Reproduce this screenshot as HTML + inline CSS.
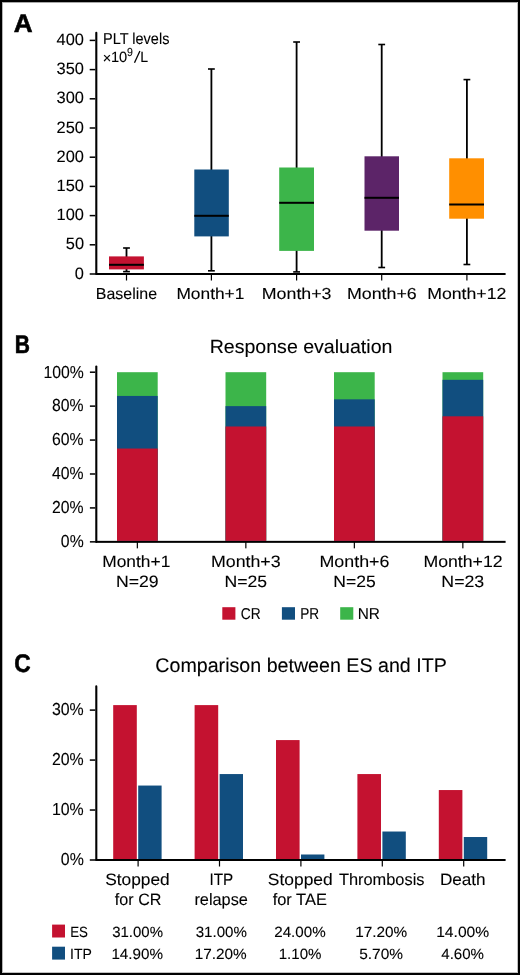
<!DOCTYPE html>
<html><head><meta charset="utf-8"><style>
html,body{margin:0;padding:0;background:#fff;}
svg{display:block;will-change:transform;font-family:"Liberation Sans",sans-serif;text-rendering:geometricPrecision;}
text{fill:#000;stroke:#000;stroke-width:0.1px;}
</style></head><body>
<svg width="520" height="975" viewBox="0 0 520 975">
<rect width="520" height="975" fill="#fff"/>
<rect x="2.00" y="2.00" width="1.00" height="971.00" fill="#b4b4b4"/>
<rect x="2.00" y="2.00" width="516.00" height="1.00" fill="#a8a8a8"/>
<rect x="517.00" y="2.00" width="1.00" height="971.00" fill="#c0c0c0"/>
<rect x="2.00" y="972.00" width="516.00" height="1.00" fill="#c0c0c0"/>
<rect x="0.00" y="0.00" width="520.00" height="2.00" fill="#000"/>
<rect x="0.00" y="973.00" width="520.00" height="2.00" fill="#000"/>
<rect x="0.00" y="0.00" width="2.00" height="975.00" fill="#000"/>
<rect x="518.00" y="0.00" width="2.00" height="975.00" fill="#000"/>
<line x1="96.30" y1="32.7" x2="96.30" y2="274.00" stroke="#000" stroke-width="2.1" stroke-linecap="round"/>
<rect x="95.25" y="273.00" width="410.35" height="2.00" fill="#000"/>
<rect x="89.70" y="273.25" width="5.55" height="1.50" fill="#000"/>
<rect x="89.70" y="244.05" width="5.55" height="1.50" fill="#000"/>
<rect x="89.70" y="214.85" width="5.55" height="1.50" fill="#000"/>
<rect x="89.70" y="185.65" width="5.55" height="1.50" fill="#000"/>
<rect x="89.70" y="156.45" width="5.55" height="1.50" fill="#000"/>
<rect x="89.70" y="127.25" width="5.55" height="1.50" fill="#000"/>
<rect x="89.70" y="98.05" width="5.55" height="1.50" fill="#000"/>
<rect x="89.70" y="68.85" width="5.55" height="1.50" fill="#000"/>
<rect x="89.70" y="39.65" width="5.55" height="1.50" fill="#000"/>
<rect x="125.60" y="248.00" width="1.80" height="23.60" fill="#000"/>
<rect x="123.10" y="247.20" width="6.80" height="1.60" fill="#000"/>
<rect x="123.10" y="270.80" width="6.80" height="1.60" fill="#000"/>
<rect x="109.00" y="256.40" width="34.90" height="13.00" fill="#c41230"/>
<rect x="109.00" y="263.80" width="34.90" height="2.00" fill="#000"/>
<rect x="125.90" y="274.00" width="1.20" height="6.50" fill="#000"/>
<rect x="210.50" y="69.00" width="1.80" height="201.80" fill="#000"/>
<rect x="208.00" y="68.20" width="6.80" height="1.60" fill="#000"/>
<rect x="208.00" y="270.00" width="6.80" height="1.60" fill="#000"/>
<rect x="194.30" y="169.50" width="34.50" height="66.90" fill="#114e7f"/>
<rect x="194.30" y="214.80" width="34.50" height="2.00" fill="#000"/>
<rect x="210.80" y="274.00" width="1.20" height="6.50" fill="#000"/>
<rect x="295.70" y="42.00" width="1.80" height="229.90" fill="#000"/>
<rect x="293.20" y="41.20" width="6.80" height="1.60" fill="#000"/>
<rect x="293.20" y="271.10" width="6.80" height="1.60" fill="#000"/>
<rect x="279.20" y="167.50" width="34.80" height="83.40" fill="#3cb54a"/>
<rect x="279.20" y="201.80" width="34.80" height="2.00" fill="#000"/>
<rect x="296.00" y="274.00" width="1.20" height="6.50" fill="#000"/>
<rect x="380.80" y="44.50" width="1.80" height="223.00" fill="#000"/>
<rect x="378.30" y="43.70" width="6.80" height="1.60" fill="#000"/>
<rect x="378.30" y="266.70" width="6.80" height="1.60" fill="#000"/>
<rect x="364.50" y="156.30" width="34.50" height="74.40" fill="#5c2468"/>
<rect x="364.50" y="196.80" width="34.50" height="2.00" fill="#000"/>
<rect x="381.10" y="274.00" width="1.20" height="6.50" fill="#000"/>
<rect x="466.00" y="79.60" width="1.80" height="184.90" fill="#000"/>
<rect x="463.50" y="78.80" width="6.80" height="1.60" fill="#000"/>
<rect x="463.50" y="263.70" width="6.80" height="1.60" fill="#000"/>
<rect x="449.20" y="158.30" width="34.80" height="60.40" fill="#ff8f00"/>
<rect x="449.20" y="203.50" width="34.80" height="2.00" fill="#000"/>
<rect x="466.30" y="274.00" width="1.20" height="6.50" fill="#000"/>
<line x1="96.30" y1="366.6" x2="96.30" y2="541.85" stroke="#000" stroke-width="2.1" stroke-linecap="round"/>
<rect x="95.25" y="540.85" width="410.35" height="2.00" fill="#000"/>
<rect x="89.90" y="541.10" width="5.35" height="1.50" fill="#000"/>
<rect x="89.90" y="507.17" width="5.35" height="1.50" fill="#000"/>
<rect x="89.90" y="473.24" width="5.35" height="1.50" fill="#000"/>
<rect x="89.90" y="439.31" width="5.35" height="1.50" fill="#000"/>
<rect x="89.90" y="405.38" width="5.35" height="1.50" fill="#000"/>
<rect x="89.90" y="371.45" width="5.35" height="1.50" fill="#000"/>
<rect x="117.00" y="372.20" width="40.70" height="168.65" fill="#3cb54a"/>
<rect x="117.00" y="395.95" width="40.70" height="144.90" fill="#114e7f"/>
<rect x="117.00" y="448.54" width="40.70" height="92.31" fill="#c41230"/>
<rect x="136.75" y="541.85" width="1.20" height="6.50" fill="#000"/>
<rect x="225.50" y="372.20" width="40.70" height="168.65" fill="#3cb54a"/>
<rect x="225.50" y="406.13" width="40.70" height="134.72" fill="#114e7f"/>
<rect x="225.50" y="426.49" width="40.70" height="114.36" fill="#c41230"/>
<rect x="245.25" y="541.85" width="1.20" height="6.50" fill="#000"/>
<rect x="334.00" y="372.20" width="40.70" height="168.65" fill="#3cb54a"/>
<rect x="334.00" y="399.34" width="40.70" height="141.51" fill="#114e7f"/>
<rect x="334.00" y="426.49" width="40.70" height="114.36" fill="#c41230"/>
<rect x="353.75" y="541.85" width="1.20" height="6.50" fill="#000"/>
<rect x="442.50" y="372.20" width="40.70" height="168.65" fill="#3cb54a"/>
<rect x="442.50" y="379.83" width="40.70" height="161.02" fill="#114e7f"/>
<rect x="442.50" y="416.31" width="40.70" height="124.54" fill="#c41230"/>
<rect x="462.25" y="541.85" width="1.20" height="6.50" fill="#000"/>
<rect x="222.30" y="607.20" width="13.10" height="12.50" fill="#c41230"/>
<rect x="281.90" y="607.20" width="13.10" height="12.50" fill="#114e7f"/>
<rect x="340.20" y="607.20" width="13.10" height="12.50" fill="#3cb54a"/>
<line x1="96.30" y1="686.4" x2="96.30" y2="860.00" stroke="#000" stroke-width="2.1" stroke-linecap="round"/>
<rect x="95.25" y="859.00" width="410.35" height="2.00" fill="#000"/>
<rect x="89.80" y="859.25" width="5.45" height="1.50" fill="#000"/>
<rect x="89.80" y="809.28" width="5.45" height="1.50" fill="#000"/>
<rect x="89.80" y="759.32" width="5.45" height="1.50" fill="#000"/>
<rect x="89.80" y="709.35" width="5.45" height="1.50" fill="#000"/>
<rect x="113.20" y="705.10" width="23.60" height="153.90" fill="#c41230"/>
<rect x="138.20" y="785.55" width="23.40" height="73.45" fill="#114e7f"/>
<rect x="137.50" y="860.00" width="1.20" height="6.50" fill="#000"/>
<rect x="194.60" y="705.10" width="23.60" height="153.90" fill="#c41230"/>
<rect x="219.60" y="774.06" width="23.40" height="84.94" fill="#114e7f"/>
<rect x="218.90" y="860.00" width="1.20" height="6.50" fill="#000"/>
<rect x="276.00" y="740.08" width="23.60" height="118.92" fill="#c41230"/>
<rect x="301.00" y="854.50" width="23.40" height="4.50" fill="#114e7f"/>
<rect x="300.30" y="860.00" width="1.20" height="6.50" fill="#000"/>
<rect x="357.40" y="774.06" width="23.60" height="84.94" fill="#c41230"/>
<rect x="382.40" y="831.52" width="23.40" height="27.48" fill="#114e7f"/>
<rect x="381.70" y="860.00" width="1.20" height="6.50" fill="#000"/>
<rect x="438.80" y="790.05" width="23.60" height="68.95" fill="#c41230"/>
<rect x="463.80" y="837.02" width="23.40" height="21.98" fill="#114e7f"/>
<rect x="463.10" y="860.00" width="1.20" height="6.50" fill="#000"/>
<rect x="52.10" y="924.60" width="12.90" height="12.90" fill="#c41230"/>
<rect x="52.10" y="946.70" width="12.90" height="12.90" fill="#114e7f"/>
<text x="13.73" y="31.90" font-size="25.5" font-weight="bold" style="stroke-width:0.6px" textLength="18.86" lengthAdjust="spacingAndGlyphs">A</text>
<text x="14.85" y="352.50" font-size="25.5" font-weight="bold" style="stroke-width:0.6px" textLength="15.21" lengthAdjust="spacingAndGlyphs">B</text>
<text x="14.21" y="672.00" font-size="25.5" font-weight="bold" style="stroke-width:0.6px" textLength="16.39" lengthAdjust="spacingAndGlyphs">C</text>
<text x="74.78" y="278.50" font-size="16.4" textLength="9.14" lengthAdjust="spacingAndGlyphs">0</text>
<text x="65.77" y="249.30" font-size="16.4" textLength="18.27" lengthAdjust="spacingAndGlyphs">50</text>
<text x="56.50" y="220.10" font-size="16.4" textLength="27.41" lengthAdjust="spacingAndGlyphs">100</text>
<text x="56.50" y="190.90" font-size="16.4" textLength="27.41" lengthAdjust="spacingAndGlyphs">150</text>
<text x="56.50" y="161.70" font-size="16.4" textLength="27.41" lengthAdjust="spacingAndGlyphs">200</text>
<text x="56.50" y="132.50" font-size="16.4" textLength="27.41" lengthAdjust="spacingAndGlyphs">250</text>
<text x="56.50" y="103.30" font-size="16.4" textLength="27.41" lengthAdjust="spacingAndGlyphs">300</text>
<text x="56.50" y="74.10" font-size="16.4" textLength="27.41" lengthAdjust="spacingAndGlyphs">350</text>
<text x="56.50" y="44.90" font-size="16.4" textLength="27.41" lengthAdjust="spacingAndGlyphs">400</text>
<text x="103.05" y="44.20" font-size="15.8" textLength="66.35" lengthAdjust="spacingAndGlyphs">PLT levels</text>
<text x="95.85" y="298.50" font-size="15.9" textLength="61.18" lengthAdjust="spacingAndGlyphs">Baseline</text>
<text x="176.44" y="298.50" font-size="15.9" textLength="67.93" lengthAdjust="spacingAndGlyphs">Month+1</text>
<text x="261.80" y="298.50" font-size="15.9" textLength="69.69" lengthAdjust="spacingAndGlyphs">Month+3</text>
<text x="346.90" y="298.50" font-size="15.9" textLength="69.90" lengthAdjust="spacingAndGlyphs">Month+6</text>
<text x="427.21" y="298.50" font-size="15.9" textLength="79.17" lengthAdjust="spacingAndGlyphs">Month+12</text>
<text x="209.65" y="352.50" font-size="19" textLength="182.80" lengthAdjust="spacingAndGlyphs">Response evaluation</text>
<text x="60.87" y="547.15" font-size="17.4" textLength="22.81" lengthAdjust="spacingAndGlyphs">0%</text>
<text x="52.02" y="513.22" font-size="17.4" textLength="31.59" lengthAdjust="spacingAndGlyphs">20%</text>
<text x="52.02" y="479.29" font-size="17.4" textLength="31.59" lengthAdjust="spacingAndGlyphs">40%</text>
<text x="52.02" y="445.36" font-size="17.4" textLength="31.59" lengthAdjust="spacingAndGlyphs">60%</text>
<text x="52.02" y="411.43" font-size="17.4" textLength="31.59" lengthAdjust="spacingAndGlyphs">80%</text>
<text x="43.40" y="377.50" font-size="17.4" textLength="40.37" lengthAdjust="spacingAndGlyphs">100%</text>
<text x="102.28" y="567.30" font-size="16.4" textLength="68.02" lengthAdjust="spacingAndGlyphs">Month+1</text>
<text x="210.94" y="567.30" font-size="16.4" textLength="69.67" lengthAdjust="spacingAndGlyphs">Month+3</text>
<text x="319.44" y="567.30" font-size="16.4" textLength="69.98" lengthAdjust="spacingAndGlyphs">Month+6</text>
<text x="423.45" y="567.30" font-size="16.4" textLength="79.18" lengthAdjust="spacingAndGlyphs">Month+12</text>
<text x="115.95" y="586.90" font-size="16.4" textLength="42.71" lengthAdjust="spacingAndGlyphs">N=29</text>
<text x="224.46" y="586.90" font-size="16.4" textLength="42.63" lengthAdjust="spacingAndGlyphs">N=25</text>
<text x="333.26" y="586.90" font-size="16.4" textLength="42.42" lengthAdjust="spacingAndGlyphs">N=25</text>
<text x="441.35" y="586.90" font-size="16.4" textLength="42.84" lengthAdjust="spacingAndGlyphs">N=23</text>
<text x="240.85" y="618.50" font-size="15.8" textLength="19.87" lengthAdjust="spacingAndGlyphs">CR</text>
<text x="300.23" y="618.50" font-size="15.8" textLength="18.88" lengthAdjust="spacingAndGlyphs">PR</text>
<text x="357.78" y="618.50" font-size="15.8" textLength="22.22" lengthAdjust="spacingAndGlyphs">NR</text>
<text x="155.31" y="671.70" font-size="19.8" textLength="291.48" lengthAdjust="spacingAndGlyphs">Comparison between ES and ITP</text>
<text x="60.80" y="865.20" font-size="17.4" textLength="22.99" lengthAdjust="spacingAndGlyphs">0%</text>
<text x="51.89" y="815.23" font-size="17.4" textLength="31.83" lengthAdjust="spacingAndGlyphs">10%</text>
<text x="51.89" y="765.27" font-size="17.4" textLength="31.83" lengthAdjust="spacingAndGlyphs">20%</text>
<text x="51.89" y="715.30" font-size="17.4" textLength="31.83" lengthAdjust="spacingAndGlyphs">30%</text>
<text x="105.21" y="885.30" font-size="16.5" textLength="64.52" lengthAdjust="spacingAndGlyphs">Stopped</text>
<text x="114.86" y="905.00" font-size="16.5" textLength="46.54" lengthAdjust="spacingAndGlyphs">for CR</text>
<text x="209.41" y="885.30" font-size="16.5" textLength="23.74" lengthAdjust="spacingAndGlyphs">ITP</text>
<text x="194.41" y="905.00" font-size="16.5" textLength="53.45" lengthAdjust="spacingAndGlyphs">relapse</text>
<text x="267.81" y="885.30" font-size="16.5" textLength="64.93" lengthAdjust="spacingAndGlyphs">Stopped</text>
<text x="272.65" y="905.00" font-size="16.5" textLength="54.22" lengthAdjust="spacingAndGlyphs">for TAE</text>
<text x="338.95" y="885.30" font-size="16.5" textLength="85.55" lengthAdjust="spacingAndGlyphs">Thrombosis</text>
<text x="439.90" y="885.30" font-size="16.5" textLength="45.77" lengthAdjust="spacingAndGlyphs">Death</text>
<text x="70.17" y="936.80" font-size="14.8" textLength="17.80" lengthAdjust="spacingAndGlyphs">ES</text>
<text x="70.12" y="958.80" font-size="14.8" textLength="21.82" lengthAdjust="spacingAndGlyphs">ITP</text>
<text x="112.19" y="936.80" font-size="14.8" textLength="50.80" lengthAdjust="spacingAndGlyphs">31.00%</text>
<text x="195.69" y="936.80" font-size="14.8" textLength="51.21" lengthAdjust="spacingAndGlyphs">31.00%</text>
<text x="274.23" y="936.80" font-size="14.8" textLength="51.47" lengthAdjust="spacingAndGlyphs">24.00%</text>
<text x="355.20" y="936.80" font-size="14.8" textLength="52.01" lengthAdjust="spacingAndGlyphs">17.20%</text>
<text x="436.18" y="936.80" font-size="14.8" textLength="53.05" lengthAdjust="spacingAndGlyphs">14.00%</text>
<text x="111.42" y="958.80" font-size="14.8" textLength="51.59" lengthAdjust="spacingAndGlyphs">14.90%</text>
<text x="194.70" y="958.80" font-size="14.8" textLength="52.01" lengthAdjust="spacingAndGlyphs">17.20%</text>
<text x="278.73" y="958.80" font-size="14.8" textLength="42.75" lengthAdjust="spacingAndGlyphs">1.10%</text>
<text x="359.22" y="958.80" font-size="14.8" textLength="43.77" lengthAdjust="spacingAndGlyphs">5.70%</text>
<text x="441.25" y="958.80" font-size="14.8" textLength="42.73" lengthAdjust="spacingAndGlyphs">4.60%</text>
<text x="102.72" y="63.30" font-size="14.8" textLength="8.52" lengthAdjust="spacingAndGlyphs">×</text>
<text x="110.96" y="62.40" font-size="14.8" textLength="16.30" lengthAdjust="spacingAndGlyphs">10</text>
<text x="126.95" y="56.20" font-size="11.6" textLength="5.87" lengthAdjust="spacingAndGlyphs">9</text>
<text x="140.21" y="62.40" font-size="14.8" textLength="7.85" lengthAdjust="spacingAndGlyphs">L</text>
<line x1="134.5" y1="62.8" x2="139.9" y2="51.0" stroke="#000" stroke-width="1.3"/>
</svg>
</body></html>
